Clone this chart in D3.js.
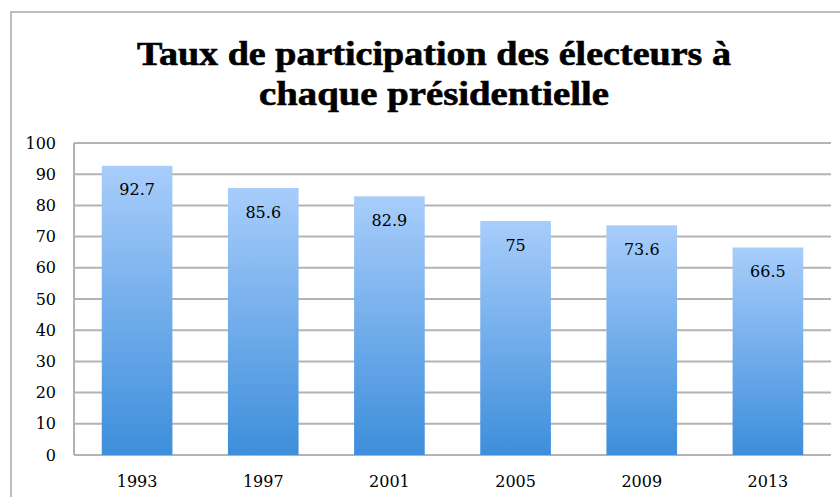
<!DOCTYPE html>
<html>
<head>
<meta charset="utf-8">
<script src="https://cdn.jsdelivr.net/npm/d3@7"></script>
<style>
  html,body{margin:0;padding:0;background:#fff;}
  svg{display:block;}
</style>
</head>
<body>
<div id="chart"></div>
<script>
const years = ["1993","1997","2001","2005","2009","2013"];
const turnout = [92.7, 85.6, 82.9, 75, 73.6, 66.5];
const yTicks = [0,10,20,30,40,50,60,70,80,90,100];
const titleLines = ["Taux de participation des électeurs à", "chaque présidentielle"];

(function(){
  const W = 840, H = 497;
  const svg = d3.select("#chart").append("svg")
      .attr("width", W).attr("height", H);

  const defs = svg.append("defs");
  const grad = defs.append("linearGradient")
      .attr("id","barGrad").attr("x1",0).attr("y1",0).attr("x2",0).attr("y2",1);
  grad.append("stop").attr("offset","0%").attr("stop-color","#a8cdfb");
  grad.append("stop").attr("offset","100%").attr("stop-color","#3d8edb");

  // outer frame (runs off the right edge)
  svg.append("path")
    .attr("d", `M11,${H+2}V12H${W+2}`)
    .attr("fill","none").attr("stroke","#bdbdbd").attr("stroke-width",2);

  // title
  svg.append("g").selectAll("text")
    .data(titleLines)
    .join("text")
    .attr("x", 434)
    .attr("y", (d,i)=>65 + i*40)
    .attr("text-anchor","middle")
    .attr("font-family","'Liberation Serif', serif")
    .attr("font-weight","bold")
    .attr("font-size", 33)
    .attr("fill","#000")
    .attr("stroke","#000").attr("stroke-width",0.6)
    .attr("textLength",(d,i)=> i===0 ? 594 : 350)
    .attr("lengthAdjust","spacingAndGlyphs")
    .text(d=>d);

  const m = {left:74, right:831, top:143, bottom:455};

  const x = d3.scaleBand()
    .domain(years)
    .range([m.left, m.right])
    .paddingInner(0.44)
    .paddingOuter(0.22);

  const y = d3.scaleLinear()
    .domain([0,100])
    .range([m.bottom, m.top]);

  const labelFont = "'DejaVu Serif', serif";

  // gridlines
  svg.append("g").selectAll("line")
    .data(yTicks)
    .join("line")
    .attr("x1", m.left).attr("x2", m.right)
    .attr("y1", d=>y(d)).attr("y2", d=>y(d))
    .attr("stroke","#b3b3b3").attr("stroke-width",2);

  // left axis line
  svg.append("line")
    .attr("x1", m.left).attr("x2", m.left)
    .attr("y1", m.top).attr("y2", m.bottom)
    .attr("stroke","#b3b3b3").attr("stroke-width",2);

  // y tick labels
  svg.append("g").selectAll("text")
    .data(yTicks)
    .join("text")
    .attr("x", 56)
    .attr("y", d=>y(d))
    .attr("dy","0.35em")
    .attr("text-anchor","end")
    .attr("font-family",labelFont)
    .attr("font-size", 16)
    .attr("fill","#000")
    .text(d=>d);

  // bars
  const data = years.map((yr,i)=>({year:yr, value:turnout[i]}));

  svg.append("g").selectAll("rect")
    .data(data)
    .join("rect")
    .attr("x", d=>x(d.year))
    .attr("y", d=>y(d.value))
    .attr("width", x.bandwidth())
    .attr("height", d=>y(0)-y(d.value))
    .attr("fill","url(#barGrad)");

  // value labels
  svg.append("g").selectAll("text")
    .data(data)
    .join("text")
    .attr("x", d=>x(d.year)+x.bandwidth()/2)
    .attr("y", d=>y(d.value)+24)
    .attr("dy","0.35em")
    .attr("text-anchor","middle")
    .attr("font-family",labelFont)
    .attr("font-size", 16)
    .attr("fill","#000")
    .text(d=>d.value);

  // x labels
  svg.append("g").selectAll("text")
    .data(years)
    .join("text")
    .attr("x", d=>x(d)+x.bandwidth()/2)
    .attr("y", 481)
    .attr("dy","0.35em")
    .attr("text-anchor","middle")
    .attr("font-family",labelFont)
    .attr("font-size", 16)
    .attr("fill","#000")
    .text(d=>d);
})();
</script>
</body>
</html>
